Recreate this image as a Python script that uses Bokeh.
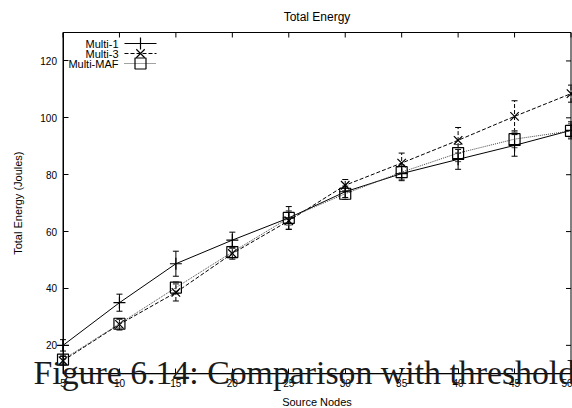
import math
from bokeh.plotting import figure
from bokeh.models import (Range1d, FixedTicker, Whisker, TeeHead, BoxAnnotation,
                          ColumnDataSource, Label)
from bokeh.embed import file_html
from bokeh.resources import INLINE

# ---- data -------------------------------------------------------------
nodes = [5, 10, 15, 20, 25, 30, 35, 40, 45, 50]
multi1 = [20.0, 35.0, 48.7, 57.0, 64.8, 74.0, 80.4, 85.4, 90.3, 95.6]
multi1_err = [2.0, 3.0, 4.4, 2.8, 4.0, 2.0, 2.5, 3.5, 3.8, 3.0]
multi3 = [14.6, 27.4, 38.6, 52.3, 63.8, 76.3, 84.1, 92.1, 100.5, 108.5]
multi3_err = [1.5, 2.0, 3.0, 2.0, 3.0, 2.0, 3.5, 4.5, 5.5, 3.0]
maf = [15.0, 27.6, 40.3, 52.8, 64.8, 73.3, 80.9, 87.6, 92.5, 95.4]
maf_err = [1.5, 1.5, 2.0, 2.0, 2.5, 2.0, 2.5, 3.0, 3.0, 2.5]

x_ticks = [5, 10, 15, 20, 25, 30, 35, 40, 45, 50]
y_ticks = [20, 40, 60, 80, 100, 120]
series_names = ["Multi-1", "Multi-3", "Multi-MAF"]

title_text = "Total Energy"
x_label = "Source Nodes"
y_label = "Total Energy (Joules)"
caption = "Figure 6.14: Comparison with threshold"

SANS = "Liberation Sans"

# ---- layout: the frame covers the whole canvas so that the overlaid ----
# ---- caption is not clipped; the plot box sits at these pixels      ----
W, H = 572, 408
X0, X1, Y0, Y1 = 5, 50, 10, 130          # plotted box in data units
PL, PR, PT, PB = 62.5, 570.5, 32.0, 373.3  # plotted box in pixels
kx = (PR - PL) / (X1 - X0)
ky = (PB - PT) / (Y1 - Y0)
XS = X0 - PL / kx                         # data x at canvas left
YT = Y1 + PT / ky                         # data y at canvas top
dx = lambda px: XS + px / kx
dy = lambda py: YT - py / ky

p = figure(width=W, height=H, x_range=Range1d(dx(0), dx(W)), y_range=Range1d(dy(H), dy(0)),
           output_backend="svg", toolbar_location=None, min_border=0)
p.background_fill_color = "white"
p.border_fill_color = "white"
p.grid.visible = False
p.outline_line_color = None

for ax in (p.xaxis[0], p.yaxis[0]):
    ax.major_tick_in = 5
    ax.major_tick_out = 0
    ax.minor_tick_line_color = None
    ax.axis_line_color = "black"
    ax.major_tick_line_color = "black"
    ax.major_label_text_font = SANS
    ax.major_label_text_font_size = "10px"
    ax.major_label_text_color = "black"

p.xaxis.ticker = FixedTicker(ticks=x_ticks)
p.yaxis.ticker = FixedTicker(ticks=y_ticks)
p.xaxis.fixed_location = Y0
p.yaxis.fixed_location = X0
p.xaxis.bounds = (X0, X1)
p.yaxis.bounds = (Y0, Y1)
p.xaxis.major_label_standoff = 5
p.yaxis.major_label_standoff = 6

# plot border and mirrored inward ticks (top and right)
p.add_layout(BoxAnnotation(left=X0, right=X1, bottom=Y0, top=Y1, fill_alpha=0,
                           line_color="black", line_width=1, line_alpha=1))
n_x, n_y = len(x_ticks), len(y_ticks)
p.segment(x0=x_ticks, y0=[Y1] * n_x, x1=x_ticks, y1=[Y1 - 5 / ky] * n_x,
          line_color="black", line_width=1)
p.segment(x0=[X1] * n_y, y0=y_ticks, x1=[X1 - 5 / kx] * n_y, y1=y_ticks,
          line_color="black", line_width=1)

# titles (vertical centres in pixels)
p.add_layout(Label(x=(X0 + X1) / 2, y=dy(16), text=title_text, text_align="center",
                   text_baseline="middle", text_font=SANS, text_font_size="12px",
                   text_color="black"))
p.add_layout(Label(x=(X0 + X1) / 2, y=dy(401.3), text=x_label, text_align="center",
                   text_baseline="middle", text_font=SANS, text_font_size="11px",
                   text_color="black"))
p.add_layout(Label(x=dx(17), y=dy((PT + PB) / 2), text=y_label, text_align="center",
                   text_baseline="middle", angle=math.pi / 2, text_font=SANS,
                   text_font_size="11px", text_color="black"))

# ---- series -----------------------------------------------------------
styles = [
    dict(y=multi1, err=multi1_err, dash="solid", marker="cross", size=12, color="black"),
    dict(y=multi3, err=multi3_err, dash="4 2", marker="x", size=12, color="black"),
    dict(y=maf, err=maf_err, dash="1 1", marker="square", size=11, color="#444444"),
]

for s in styles:
    src = ColumnDataSource(dict(x=nodes, y=s["y"],
                                lo=[v - e for v, e in zip(s["y"], s["err"])],
                                hi=[v + e for v, e in zip(s["y"], s["err"])]))
    p.line("x", "y", source=src, line_color=s["color"], line_width=1, line_dash=s["dash"])
    p.add_layout(Whisker(source=src, base="x", lower="lo", upper="hi",
                         line_color=s["color"], line_width=1, line_dash=s["dash"],
                         lower_head=TeeHead(size=6, line_color=s["color"], line_width=1),
                         upper_head=TeeHead(size=6, line_color=s["color"], line_width=1)))
    p.scatter("x", "y", source=src, marker=s["marker"], size=s["size"],
              line_color="black", fill_color=None, line_width=1.2)

# ---- legend (gnuplot style: text left, sample right) -------------------
for i, (name, s) in enumerate(zip(series_names, styles)):
    yy = dy(43 + 10 * i)
    p.add_layout(Label(x=dx(118), y=yy, text=name, text_align="right",
                       text_baseline="middle", text_font=SANS, text_font_size="11px",
                       text_color="black"))
    p.segment(x0=[dx(124)], y0=[yy], x1=[dx(156)], y1=[yy],
              line_color=s["color"], line_width=1, line_dash=s["dash"])
    p.scatter(x=[dx(140)], y=[yy], marker=s["marker"], size=s["size"],
              line_color="black", fill_color=None, line_width=1.2)

# ---- stray caption overlaid at the bottom ------------------------------
p.add_layout(Label(x=dx(33), y=dy(372.0), text=caption,
                   text_font="Liberation Serif", text_font_size="33.8px",
                   text_color="#1a1a1a", text_baseline="middle"))

open("out.html", "w").write(file_html(p, INLINE))
